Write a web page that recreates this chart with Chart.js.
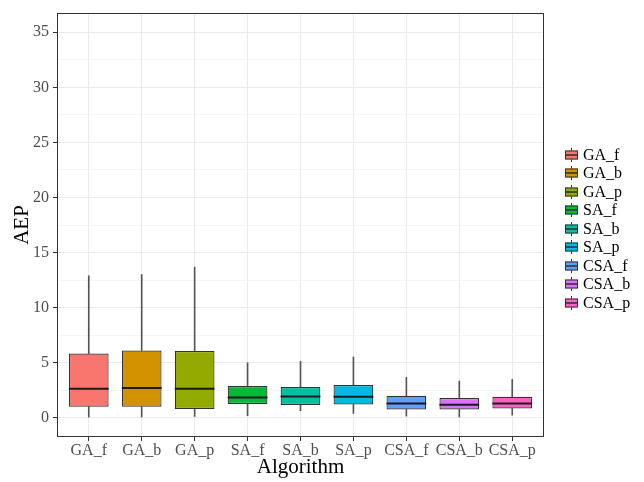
<!DOCTYPE html>
<html>
<head>
<meta charset="utf-8">
<script src="https://cdn.jsdelivr.net/npm/chart.js@4"></script>
<style>
  html, body { margin: 0; padding: 0; background: #fff; }
  #wrap { width: 644px; height: 482px; }
</style>
</head>
<body>
<div id="wrap"><canvas id="chartAEP" width="644" height="482"></canvas></div>
<script>
// AEP por algoritmo (resumen del boxplot)
const algorithms = ['GA_f', 'GA_b', 'GA_p', 'SA_f', 'SA_b', 'SA_p', 'CSA_f', 'CSA_b', 'CSA_p'];
const whiskerLow = [0.06, 0.06, 0.12, 0.18, 0.64, 0.39, 0.15, 0.06, 0.24];
const q1 = [1.00, 1.00, 0.79, 1.24, 1.15, 1.21, 0.75, 0.75, 0.84];
const median = [2.63, 2.69, 2.63, 1.84, 1.93, 1.91, 1.30, 1.18, 1.30];
const q3 = [5.83, 6.11, 6.05, 2.88, 2.79, 2.97, 2.00, 1.79, 1.91];
const whiskerHigh = [12.89, 13.00, 13.67, 4.99, 5.11, 5.51, 3.66, 3.33, 3.48];
const colores = ['#F8766D', '#D39200', '#93AA00', '#00BA38', '#00C19F', '#00B9E3', '#619CFF', '#DB72FB', '#FF61C3'];
const yTicks = [0, 5, 10, 15, 20, 25, 30, 35];
const yMinor = [2.5, 7.5, 12.5, 17.5, 22.5, 27.5, 32.5];

const FONT = '"Liberation Serif", "Times New Roman", serif';

// marco del panel
const panelBorder = {
    id: 'panelBorder',
    afterDatasetsDraw(chart) {
        const {ctx, chartArea: a} = chart;
        ctx.save();
        ctx.strokeStyle = '#333333';
        ctx.lineWidth = 1;
        ctx.strokeRect(a.left + 0.5, a.top + 0.5, a.width - 1, a.height - 1);
        ctx.restore();
    }
};

// leyenda con claves de boxplot
const boxLegend = {
    id: 'boxLegend',
    afterDraw(chart) {
        const ctx = chart.ctx;
        ctx.save();
        ctx.font = '16px ' + FONT;
        ctx.textBaseline = 'middle';
        algorithms.forEach((name, i) => {
            const y = Math.round(155 + i * 18.45);
            const x = 565;
            ctx.strokeStyle = '#333333';
            ctx.lineWidth = 1;
            ctx.beginPath();
            ctx.moveTo(x + 6.5, y - 7);
            ctx.lineTo(x + 6.5, y + 7);
            ctx.stroke();
            ctx.fillStyle = colores[i];
            ctx.fillRect(x, y - 4.5, 13, 9);
            ctx.strokeRect(x + 0.5, y - 4, 12, 8);
            ctx.lineWidth = 1.6;
            ctx.beginPath();
            ctx.moveTo(x, y);
            ctx.lineTo(x + 13, y);
            ctx.stroke();
            ctx.fillStyle = '#000';
            ctx.fillText(name, 583, y + 1);
        });
        ctx.restore();
    }
};

const pos = algorithms.map((_, i) => i + 1);

new Chart(document.getElementById('chartAEP'), {
    type: 'bar',
    data: {
        datasets: [
            {
                type: 'scatter',
                data: pos.map((x, i) => ({x: x, y: median[i]})),
                pointStyle: 'line',
                pointRadius: 19.85,
                pointHoverRadius: 19.85,
                pointBorderWidth: 2,
                borderColor: '#1A1A1A',
                order: 0
            },
            {
                data: pos.map((x, i) => ({x: x, y: [q1[i], q3[i]]})),
                backgroundColor: colores,
                borderColor: '#333333',
                borderWidth: 1.2,
                borderSkipped: false,
                categoryPercentage: 1,
                barPercentage: 0.75,
                grouped: false,
                order: 1
            },
            {
                data: pos.map((x, i) => ({x: x, y: [q3[i], whiskerHigh[i]]})),
                backgroundColor: '#555555',
                barThickness: 1,
                grouped: false,
                order: 2
            },
            {
                data: pos.map((x, i) => ({x: x, y: [whiskerLow[i], q1[i]]})),
                backgroundColor: '#555555',
                barThickness: 1,
                grouped: false,
                order: 3
            }
        ]
    },
    options: {
        responsive: false,
        animation: false,
        events: [],
        layout: { autoPadding: false, padding: { left: 0, top: 13, right: 100, bottom: 0 } },
        plugins: {
            legend: { display: false },
            tooltip: { enabled: false }
        },
        scales: {
            x: {
                type: 'linear',
                offset: false,
                min: 0.4,
                max: 9.6,
                afterBuildTicks: s => { s.ticks = pos.map(v => ({value: v})); },
                afterFit: s => { s.height = 45; s.paddingLeft = 0; s.paddingRight = 0; },
                grid: { offset: false, color: '#EBEBEB', lineWidth: 1, tickLength: 4, tickColor: '#333333' },
                border: { display: false },
                ticks: {
                    autoSkip: false,
                    maxRotation: 0,
                    padding: 0,
                    color: '#4D4D4D',
                    font: { family: FONT, size: 16 },
                    callback: v => algorithms[v - 1]
                },
                title: {
                    display: true,
                    text: 'Algorithm',
                    color: '#000',
                    font: { family: FONT, size: 21 },
                    padding: { top: 0, bottom: 2 }
                }
            },
            y: {
                min: -1.75,
                max: 36.75,
                afterBuildTicks: s => {
                    s.ticks = yTicks.concat(yMinor).sort((a, b) => a - b).map(v => ({value: v}));
                },
                afterFit: s => { s.width = 57; s.paddingTop = 0; s.paddingBottom = 0; },
                grid: {
                    color: c => (c.tick && c.tick.value % 5 === 0) ? '#EBEBEB' : '#F2F2F2',
                    lineWidth: c => (c.tick && c.tick.value % 5 === 0) ? 1 : 0.8,
                    tickLength: 4,
                    tickColor: c => (c.tick && c.tick.value % 5 === 0) ? '#333333' : 'rgba(0,0,0,0)'
                },
                border: { display: false },
                ticks: {
                    padding: 4,
                    color: '#4D4D4D',
                    font: { family: FONT, size: 16 },
                    callback: v => (yTicks.includes(v) ? String(v) : '')
                },
                title: {
                    display: true,
                    text: 'AEP',
                    color: '#000',
                    font: { family: FONT, size: 21 },
                    padding: { top: 10, bottom: 0 }
                }
            }
        }
    },
    plugins: [panelBorder, boxLegend]
});
</script>
</body>
</html>
